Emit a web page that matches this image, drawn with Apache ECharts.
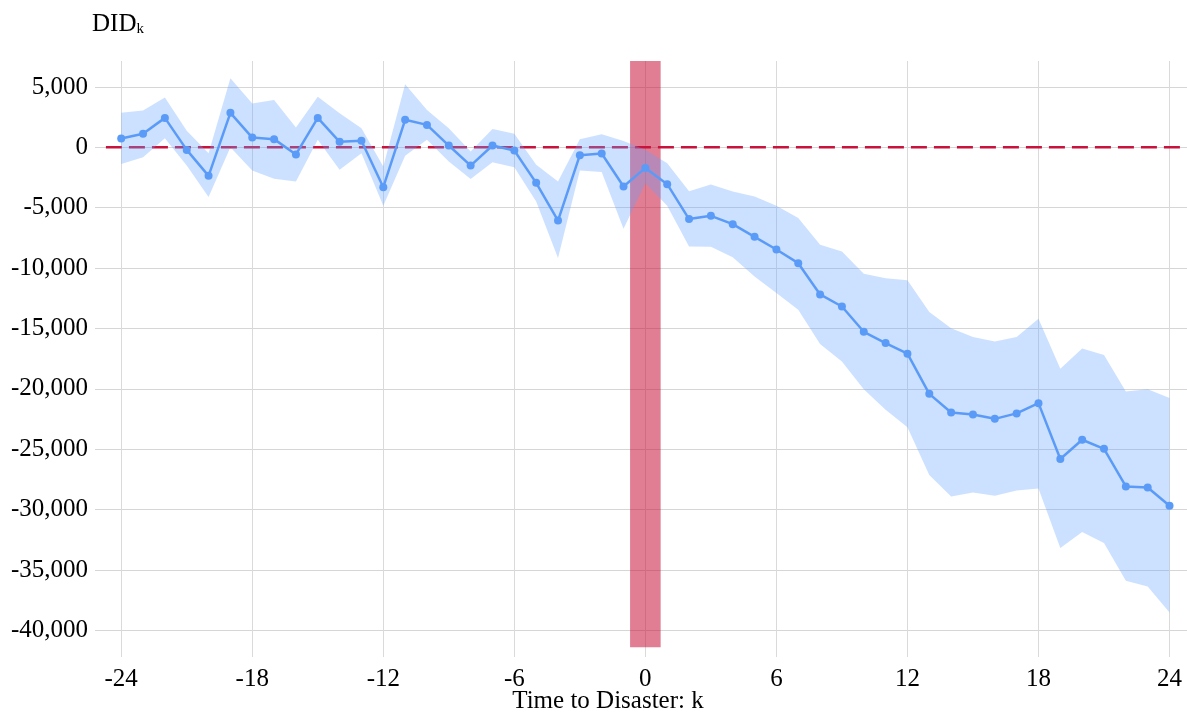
<!DOCTYPE html>
<html>
<head>
<meta charset="utf-8">
<script src="https://cdn.jsdelivr.net/npm/echarts@6/dist/echarts.min.js"></script>
<style>
  html, body { margin: 0; padding: 0; background: #ffffff; }
  #chart { width: 1187px; height: 715px; }
</style>
</head>
<body>
<div id="chart"></div>
<script>
// Event-study estimates: period relative to the disaster (k) and DID coefficient
const periods = [
  -24, -23, -22, -21, -20, -19, -18, -17, -16, -15, -14, -13, -12,
  -11, -10, -9, -8, -7, -6, -5, -4, -3, -2, -1, 0,
  1, 2, 3, 4, 5, 6, 7, 8, 9, 10, 11, 12,
  13, 14, 15, 16, 17, 18, 19, 20, 21, 22, 23, 24
];
const did = [
  730, 1120, 2440, -210, -2360, 2860, 810, 680, -590, 2440, 460, 540, -3300,
  2280, 1860, 150, -1510, 150, -260, -2940, -6060, -650, -510, -3240, -1700,
  -3050, -5940, -5670, -6360, -7410, -8460, -9590, -12180, -13180, -15270, -16210, -17080,
  -20410, -21950, -22120, -22480, -22030, -21180, -25810, -24210, -24960, -28080, -28160, -29680
];
// Confidence interval bounds
const ciUpper = [
  2860, 3050, 4120, 1370, -480, 5730, 3630, 3930, 1640, 4180, 2830, 1590, -1590,
  5230, 3100, 1590, -350, 1510, 1120, -1450, -2830, 680, 1090, 530, -200,
  -1310, -3640, -3080, -3660, -4070, -4840, -5860, -8070, -8620, -10470, -10830, -11000,
  -13630, -14970, -15710, -16070, -15710, -14200, -18340, -16650, -17200, -20210, -20020, -20760
];
const ciLower = [
  -1370, -810, 760, -1500, -4120, 0, -1920, -2610, -2830, 620, -1860, -480, -4840,
  -700, 620, -1170, -2630, -1230, -1640, -4480, -9170, -1920, -2050, -6750, -2970,
  -4830, -8210, -8240, -9090, -10700, -12070, -13450, -16290, -17730, -20020, -21730, -23180,
  -27140, -28900, -28570, -28850, -28410, -28240, -33180, -31860, -32770, -35890, -36360, -38510
];
// Tick positions
const xTicks = [-24, -18, -12, -6, 0, 6, 12, 18, 24];
const yTicks = [-40000, -35000, -30000, -25000, -20000, -15000, -10000, -5000, 0, 5000];
// Disaster window and zero reference
const shockWindow = [-0.7, 0.7];
const zeroLine = [[-24.7, 0], [24.7, 0]];

// Axis extents and shaded window vertical span
const X_MIN = -25.2, X_MAX = 24.8;
const Y_MIN = -42200, Y_MAX = 7150;
const SHOCK_BOTTOM = -41400;

const FONT = "'Liberation Serif', 'Times New Roman', serif";

const chart = echarts.init(document.getElementById('chart'), null, { renderer: 'canvas' });

chart.setOption({
  animation: false,
  backgroundColor: '#ffffff',
  grid: { left: 95, right: 0, top: 61, bottom: 58 },
  title: {
    text: '{m|DID}{s|k}',
    left: 87,
    top: 4,
    textStyle: {
      fontWeight: 'normal',
      rich: {
        m: { fontFamily: FONT, fontSize: 25, fontWeight: 'normal', color: '#000', lineHeight: 30 },
        s: { fontFamily: FONT, fontSize: 15, fontWeight: 'normal', color: '#000', lineHeight: 30, padding: [10, 0, 0, 0] }
      }
    }
  },
  graphic: [{
    type: 'text',
    x: 608,
    y: 701,
    style: {
      text: 'Time to Disaster: k',
      font: '25px ' + FONT,
      fill: '#000',
      align: 'center',
      verticalAlign: 'middle'
    }
  }],
  xAxis: {
    type: 'value',
    min: X_MIN,
    max: X_MAX,
    axisLine: { show: false },
    axisTick: { show: false, customValues: xTicks },
    axisLabel: {
      customValues: xTicks,
      color: '#000',
      fontFamily: FONT,
      fontSize: 25,
      margin: 10
    },
    splitLine: { show: true, lineStyle: { color: '#dadada', width: 1 } }
  },
  yAxis: {
    type: 'value',
    min: Y_MIN,
    max: Y_MAX,
    axisLine: { show: false },
    axisTick: { show: false, customValues: yTicks },
    axisLabel: {
      customValues: yTicks,
      color: '#000',
      fontFamily: FONT,
      fontSize: 25,
      margin: 7,
      formatter: v => Number(v).toLocaleString('en-US')
    },
    splitLine: { show: true, lineStyle: { color: '#d6d6d6', width: 1 } }
  },
  series: [
    {
      // zero reference line
      type: 'line',
      z: 1,
      silent: true,
      data: zeroLine,
      symbol: 'none',
      lineStyle: { color: '#c8143c', width: 2.5, type: [16, 7] }
    },
    {
      // disaster window
      type: 'custom',
      z: 2,
      silent: true,
      data: [shockWindow],
      encode: { x: [0, 1] },
      renderItem: (params, api) => {
        const a = api.coord([api.value(0), Y_MAX]);
        const b = api.coord([api.value(1), SHOCK_BOTTOM]);
        return {
          type: 'rect',
          shape: { x: a[0], y: a[1], width: b[0] - a[0], height: b[1] - a[1] },
          style: { fill: 'rgba(200, 20, 60, 0.55)' }
        };
      }
    },
    {
      // confidence band
      type: 'custom',
      z: 3,
      silent: true,
      data: periods.map((k, i) => [k, ciUpper[i], ciLower[i]]),
      encode: { x: 0, y: [1, 2] },
      renderItem: (params, api) => {
        if (params.dataIndex !== 0) return null;
        const top = periods.map((k, i) => api.coord([k, ciUpper[i]]));
        const bottom = periods.map((k, i) => api.coord([k, ciLower[i]])).reverse();
        return {
          type: 'polygon',
          shape: { points: top.concat(bottom) },
          style: { fill: 'rgba(100, 160, 255, 0.33)' }
        };
      }
    },
    {
      // point estimates
      type: 'line',
      z: 4,
      data: periods.map((k, i) => [k, did[i]]),
      symbol: 'circle',
      symbolSize: 8,
      showAllSymbol: true,
      lineStyle: { color: '#5b9bf8', width: 2.5 },
      itemStyle: { color: '#5b9bf8' }
    }
  ]
});
</script>
</body>
</html>
